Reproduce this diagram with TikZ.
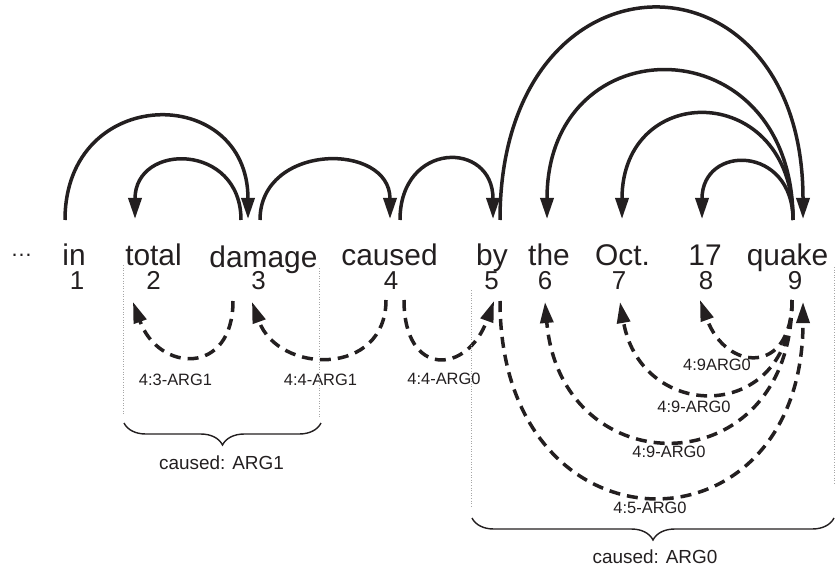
\documentclass[tikz,border=0pt]{standalone}
\usepackage{fontspec}
\setmainfont{Liberation Sans}
\usetikzlibrary{arrows.meta,decorations.pathreplacing}
\definecolor{ink}{RGB}{35,31,32}
\begin{document}
\begin{tikzpicture}[x=1bp,y=1bp,
  word/.style={anchor=base,inner sep=0pt,font=\fontsize{30}{30}\selectfont,text=ink},
  ellip/.style={anchor=base,inner sep=0pt,font=\fontsize{22}{22}\selectfont,text=ink},
  num/.style={anchor=base,inner sep=0pt,font=\fontsize{26}{26}\selectfont,text=ink},
  lbl/.style={inner sep=0pt,font=\fontsize{16.5}{16.5}\selectfont,text=ink},
  captxt/.style={inner sep=0pt,font=\fontsize{19}{19}\selectfont,text=ink},
  dep/.style={draw=ink,line width=3.5bp,-{Triangle[length=21bp,width=13bp]}},
  srl/.style={dep,dash pattern=on 11bp off 7bp},
  guide/.style={draw=gray!70,line width=0.9bp,dash pattern=on 1bp off 1.6bp},
  brc/.style={draw=ink,line width=1.4bp,decorate,decoration={brace,amplitude=22bp,mirror}}
]
\useasboundingbox (0,0) rectangle (836,-571);

% words
\node[ellip] (w0) at (21.5,-256) {…};
\node[word] (w1) at (74,-265) {in};
\node[word] (w2) at (153.5,-265) {total};
\node[word] (w3) at (263.5,-267) {damage};
\node[word] (w4) at (389.5,-265) {caused};
\node[word] (w5) at (492,-265) {by};
\node[word] (w6) at (549,-265) {the};
\node[word] (w7) at (622.5,-265) {Oct.};
\node[word] (w8) at (705,-265) {17};
\node[word] (w9) at (787.5,-265) {quake};

% indices
\node[num] (n1) at (77,-289) {1};
\node[num] (n2) at (153.5,-289) {2};
\node[num] (n3) at (258.5,-289) {3};
\node[num] (n4) at (391,-289) {4};
\node[num] (n5) at (491.5,-289) {5};
\node[num] (n6) at (545,-289) {6};
\node[num] (n7) at (619,-289) {7};
\node[num] (n8) at (706,-289) {8};
\node[num] (n9) at (795,-289) {9};

% top ports
\coordinate (t1) at (65,-220);
\coordinate (t2) at (135,-219);
\coordinate (t3a) at (241,-220);
\coordinate (t3b) at (248,-219);
\coordinate (t3c) at (260,-220);
\coordinate (t4a) at (390,-219);
\coordinate (t4b) at (400,-220);
\coordinate (t5a) at (493,-219);
\coordinate (t5b) at (500,-220);
\coordinate (t6) at (547,-219);
\coordinate (t7) at (622,-219);
\coordinate (t8) at (702,-219);
\coordinate (t9a) at (793,-220);
\coordinate (t9b) at (803,-219);

% bottom ports
\coordinate (b2) at (133,-302);
\coordinate (b3a) at (233,-301);
\coordinate (b3b) at (252,-302);
\coordinate (b4a) at (386,-300);
\coordinate (b4b) at (404,-300);
\coordinate (b5a) at (494,-301);
\coordinate (b5b) at (500,-301);
\coordinate (b6) at (545,-302);
\coordinate (b7) at (620,-302);
\coordinate (b8) at (700,-300);
\coordinate (b9a) at (792,-300);
\coordinate (b9b) at (803,-302);

% dependency arcs (solid)
\draw[dep] (t1) to[out=90,in=90,looseness=1.90] (t3b);
\draw[dep] (t3a) to[out=90,in=90,looseness=1.86] (t2);
\draw[dep] (t3c) to[out=90,in=90,looseness=1.52] (t4a);
\draw[dep] (t4b) to[out=90,in=90,looseness=2.17] (t5a);
\draw[dep] (t5b) to[out=90,in=90,looseness=2.36] (t9b);
\draw[dep] (t9a) to[out=90,in=90,looseness=2.04] (t6);
\draw[dep] (t9a) to[out=90,in=90,looseness=2.08] (t7);
\draw[dep] (t9a) to[out=90,in=90,looseness=2.11] (t8);

% semantic role arcs (dashed)
\draw[srl] (b3a) to[out=-90,in=-70,looseness=1.92] (b2);
\draw[srl] (b4a) to[out=-90,in=-70,looseness=1.47] (b3b);
\draw[srl] (b4b) to[out=-90,in=-110,looseness=2.22] (b5a);
\draw[srl] (b5b) to[out=-90,in=-90,looseness=2.19] (b9b);
\draw[srl] (b9a) to[out=-90,in=-85,looseness=1.93] (b6);
\draw[srl] (b9a) to[out=-90,in=-80,looseness=1.84] (b7);
\draw[srl] (b9a) to[out=-90,in=-70,looseness=2.12] (b8);

% role labels
\node[lbl] (l1) at (175.5,-380) {4:3-ARG1};
\node[lbl] (l2) at (320.5,-380) {4:4-ARG1};
\node[lbl] (l3) at (444,-379) {4:4-ARG0};
\node[lbl] (l4) at (717,-365) {4:9ARG0};
\node[lbl] (l5) at (694,-407) {4:9-ARG0};
\node[lbl] (l6) at (669,-452) {4:9-ARG0};
\node[lbl] (l7) at (650,-508) {4:5-ARG0};

% span guides
\coordinate (g1t) at (123,-265); \coordinate (g1b) at (123,-415);
\coordinate (g2t) at (319,-268); \coordinate (g2b) at (319,-418);
\coordinate (g3t) at (471,-290); \coordinate (g3b) at (471,-508);
\coordinate (g4t) at (834,-267); \coordinate (g4b) at (834,-483);
\draw[guide] (g1t) -- (g1b);
\draw[guide] (g2t) -- (g2b);
\draw[guide] (g3t) -- (g3b);
\draw[guide] (g4t) -- (g4b);

% braces
\coordinate (br1a) at (124,-423); \coordinate (br1b) at (321,-423);
\coordinate (br0a) at (472,-518); \coordinate (br0b) at (834,-518);
\draw[brc] (br1a) -- (br1b);
\draw[brc] (br0a) -- (br0b);
\node[captxt] (c1) at (221.5,-463) {caused: ARG1};
\node[captxt] (c0) at (655,-557) {caused: ARG0};
\end{tikzpicture}
\end{document}
